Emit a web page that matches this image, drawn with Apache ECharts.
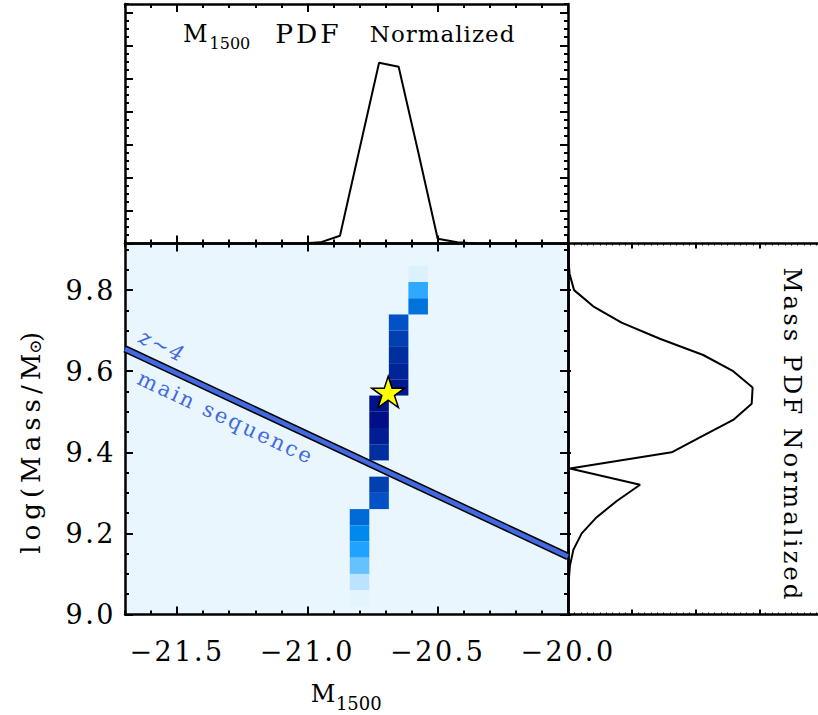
<!DOCTYPE html>
<html><head><meta charset="utf-8">
<script src="https://cdn.jsdelivr.net/npm/echarts@6/dist/echarts.min.js"></script>
<style>
html,body{margin:0;padding:0;background:#fff;}
#chart{width:818px;height:715px;}
#chart text{white-space:pre;}
#chart text[style*="27px"]{letter-spacing:2.5px;}
#chart text[style*="26px"]{letter-spacing:5px;}
#chart text[style*="24px"]{letter-spacing:1px;}
#chart text[style*="23px"]{letter-spacing:1px;}
#chart text[style*="26.5px"]{letter-spacing:3px;}
#chart text[style*="24.5px"]{letter-spacing:3px;}
#chart text[style*="21px"]{letter-spacing:2.5px;}
</style></head><body><div id="chart"></div>
<script>
// ---------------- data ----------------
// axis tick labels
const xMajorTicks = [-21.5, -21.0, -20.5, -20.0];
const yMajorTicks = [9.0, 9.2, 9.4, 9.6, 9.8];
// 2D PDF cells (M1500 bin centre, log mass bin centre, colour level 0..1)
const cellM1500 = [-20.575, -20.575, -20.575,
  -20.65, -20.65, -20.65, -20.65, -20.65,
  -20.725, -20.725, -20.725, -20.725, -20.725, -20.725,
  -20.80, -20.80, -20.80, -20.80, -20.80, -20.80];
const cellMass = [9.84, 9.80, 9.76,
  9.72, 9.68, 9.64, 9.60, 9.56,
  9.52, 9.48, 9.44, 9.40, 9.32, 9.28,
  9.24, 9.20, 9.16, 9.12, 9.08, 9.04];
const cellLevel = [0.02, 0.28, 0.47,
  0.60, 0.70, 0.80, 0.86, 0.93,
  0.98, 1.00, 0.90, 0.80, 0.70, 0.60,
  0.50, 0.40, 0.30, 0.20, 0.10, 0.00];
const binW = 0.075, binH = 0.04;
// M1500 marginal PDF (top panel)
const m1500Grid = [-21.1, -21.025, -20.95, -20.875, -20.80, -20.725, -20.65, -20.575, -20.50, -20.425, -20.35];
const m1500Pdf  = [0, 0, 0.007, 0.047, 0.573, 1.096, 1.071, 0.556, 0.029, 0.007, 0];
// Mass marginal PDF (right panel)
const massGrid = [9.92, 9.88, 9.84, 9.80, 9.76, 9.72, 9.68, 9.64, 9.60, 9.56, 9.52, 9.48,
  9.44, 9.40, 9.36, 9.32, 9.28, 9.24, 9.20, 9.16, 9.12, 9.08, 9.04, 9.00];
const massPdf = [0, 0.001, 0.005, 0.019, 0.079, 0.168, 0.288, 0.424, 0.518, 0.579, 0.576, 0.518,
  0.421, 0.325, 0.006, 0.226, 0.153, 0.090, 0.043, 0.017, 0.006, 0.002, 0.001, 0];
// z~4 main sequence line
const msM1500 = [-21.7, -20.0];
const msMass = [9.655, 9.143];
// best fit (star)
const starM1500 = [-20.69];
const starMass = [9.549];

// ---------------- styling / layout ----------------
const FONT = 'DejaVu Serif';
const levelColors = ['#e3f4fd', '#bbe3ff', '#66c2ff', '#1fa3ff', '#0088ee', '#006ad6',
  '#0052c6', '#0040b0', '#0030a0', '#001d92', '#000f88'];
const msAnnot = [
  {text: 'z~4', at: [-21.556, 9.662], italic: true},
  {text: 'main sequence', at: [-21.313, 9.485], italic: false}
];
function steps(a, b, s) { const out = []; const n = Math.round((b - a) / s); for (let i = 0; i <= n; i++) out.push(+(a + i * s).toFixed(6)); return out; }
const X_RANGE = [-21.7, -20.0], Y_RANGE = [9.0, 9.915];
const TOP_RANGE = [0, 1.4515], RIGHT_RANGE = [0, 0.9];
const LW = 2.5;

function axis(grid, pos, range, ticks, len, opt) {
  opt = opt || {};
  const a = {
    type: 'value', gridIndex: grid, position: pos, min: range[0], max: range[1],
    axisLine: {show: opt.line !== false, onZero: false, lineStyle: {color: '#000', width: LW}},
    axisTick: {show: true, inside: true, length: len, customValues: ticks, lineStyle: {color: '#000', width: opt.tw || 2}},
    axisLabel: {show: false},
    splitLine: {show: false}, minorTick: {show: false}, minorSplitLine: {show: false}
  };
  return Object.assign(a, opt.extra || {});
}
const fmtX = v => v.toFixed(1).replace('-', '\u2212');
const xMinor = steps(-21.7, -20.0, 0.1);
const yMinor = steps(9.0, 9.9, 0.05);
const xAxes = [
  axis(0, 'bottom', X_RANGE, xMajorTicks, 8, {extra: {
    axisLabel: {show: true, customValues: xMajorTicks, formatter: fmtX, fontFamily: FONT, fontSize: 27, color: '#000', margin: 23},
    name: '{m|M}{s|1500}', nameLocation: 'middle', nameGap: 61,
    nameTextStyle: {rich: {m: {fontFamily: FONT, fontSize: 24, color: '#000'}, s: {fontFamily: FONT, fontSize: 18, color: '#000', padding: [19, 0, 0, 0]}}}
  }}),
  axis(0, 'bottom', X_RANGE, xMinor, 4, {line: false}),
  axis(0, 'top', X_RANGE, xMajorTicks, 8),
  axis(0, 'top', X_RANGE, xMinor, 4, {line: false}),
  axis(1, 'bottom', X_RANGE, xMajorTicks, 8),
  axis(1, 'bottom', X_RANGE, xMinor, 4, {line: false}),
  axis(1, 'top', X_RANGE, xMajorTicks, 8),
  axis(1, 'top', X_RANGE, xMinor, 4, {line: false}),
  axis(2, 'bottom', RIGHT_RANGE, steps(0, 0.8, 0.2), 5),
  axis(2, 'bottom', RIGHT_RANGE, steps(0, 0.9, 0.02), 2, {line: false, tw: 1}),
  axis(2, 'top', RIGHT_RANGE, steps(0, 0.8, 0.2), 5),
  axis(2, 'top', RIGHT_RANGE, steps(0, 0.9, 0.02), 2, {line: false, tw: 1})
];
const yAxes = [
  axis(0, 'left', Y_RANGE, yMajorTicks, 8, {extra: {
    axisLabel: {show: true, customValues: yMajorTicks, formatter: v => v.toFixed(1), fontFamily: FONT, fontSize: 27, color: '#000', margin: 9},
    name: '{a|log(Mass/M}{s|\u2299}{b|)}', nameLocation: 'middle', nameRotate: 90, nameGap: 81,
    nameTextStyle: {rich: {
      a: {fontFamily: FONT, fontSize: 26, color: '#000', padding: [0, 20, 0, 0]},
      s: {fontFamily: FONT, fontSize: 17, color: '#000', padding: [8, 0, 0, 0]},
      b: {fontFamily: FONT, fontSize: 26, color: '#000'}
    }}
  }}),
  axis(0, 'left', Y_RANGE, yMinor, 4, {line: false}),
  axis(0, 'right', Y_RANGE, yMajorTicks, 8),
  axis(0, 'right', Y_RANGE, yMinor, 4, {line: false}),
  axis(1, 'left', TOP_RANGE, steps(0, 1.4, 0.2), 8),
  axis(1, 'left', TOP_RANGE, steps(0, 1.45, 0.05), 4, {line: false}),
  axis(1, 'right', TOP_RANGE, steps(0, 1.4, 0.2), 8),
  axis(1, 'right', TOP_RANGE, steps(0, 1.45, 0.05), 4, {line: false}),
  axis(2, 'left', Y_RANGE, yMajorTicks, 3),
  axis(2, 'left', Y_RANGE, yMinor, 2, {line: false})
];

function starPath() {
  let d = '';
  for (let i = 0; i < 10; i++) {
    const r = i % 2 === 0 ? 50 : 19.1;
    const a = -Math.PI / 2 + i * Math.PI / 5;
    d += (i ? 'L' : 'M') + (r * Math.cos(a)).toFixed(2) + ' ' + (r * Math.sin(a)).toFixed(2) + ' ';
  }
  return 'path://' + d + 'Z';
}

const chart = echarts.init(document.getElementById('chart'), null, {renderer: 'svg', width: 818, height: 715});
chart.setOption({
  animation: false,
  backgroundColor: '#ffffff',
  grid: [
    {left: 125, top: 243.5, width: 443, height: 371, show: true, backgroundColor: '#eaf6fe', borderWidth: 0, outerBoundsMode: 'none'},
    {left: 125, top: 4, width: 443, height: 239.5, outerBoundsMode: 'none'},
    {left: 568, top: 243.5, width: 287, height: 371, outerBoundsMode: 'none'}
  ],
  xAxis: xAxes,
  yAxis: yAxes,
  visualMap: {show: false, type: 'continuous', seriesIndex: 0, dimension: 2, min: 0, max: 1, inRange: {color: levelColors}},
  graphic: [
    {type: 'text', x: 183, y: 33.5, z: 10, style: {
      text: '{m|M}{s|1500}{p|PDF}{t|Normalized}', align: 'left', verticalAlign: 'middle',
      rich: {
        m: {fontFamily: FONT, fontSize: 24, fill: '#000'},
        s: {fontFamily: FONT, fontSize: 16, fill: '#000', padding: [19, 0, 0, 2]},
        p: {fontFamily: FONT, fontSize: 26.5, fill: '#000', padding: [0, 0, 0, 25]},
        t: {fontFamily: FONT, fontSize: 23, fill: '#000', padding: [0, 0, 0, 37]}
      }
    }},
    {type: 'text', x: 792, y: 435, rotation: -Math.PI / 2, z: 10, style: {
      text: 'Mass PDF Normalized', fontFamily: FONT, fontSize: 24.5, fill: '#000', align: 'center', verticalAlign: 'middle'
    }}
  ],
  series: [
    {type: 'custom', name: 'PDF cells', xAxisIndex: 0, yAxisIndex: 0, z: 2,
      data: cellM1500.map((x, i) => [x, cellMass[i], cellLevel[i]]),
      encode: {x: 0, y: 1},
      renderItem: function (params, api) {
        const x = api.value(0), y = api.value(1);
        const p1 = api.coord([x - binW / 2, y + binH / 2]);
        const p2 = api.coord([x + binW / 2, y - binH / 2]);
        return {type: 'rect', shape: {x: p1[0], y: p1[1], width: p2[0] - p1[0], height: p2[1] - p1[1]}, style: {fill: api.visual('color')}};
      }
    },
    {type: 'line', name: 'MS edge', xAxisIndex: 0, yAxisIndex: 0, z: 3, showSymbol: false, symbol: 'none',
      data: msM1500.map((x, i) => [x, msMass[i]]), lineStyle: {color: '#000', width: 7.5}},
    {type: 'line', name: 'z~4 main sequence', xAxisIndex: 0, yAxisIndex: 0, z: 4, showSymbol: false, symbol: 'none',
      data: msM1500.map((x, i) => [x, msMass[i]]), lineStyle: {color: '#4169e1', width: 4.5}},
    {type: 'custom', name: 'MS labels', xAxisIndex: 0, yAxisIndex: 0, z: 5,
      data: msAnnot.map(a => a.at), encode: {x: 0, y: 1},
      renderItem: function (params, api) {
        const a = msAnnot[params.dataIndex];
        const p = api.coord(a.at);
        const q1 = api.coord([msM1500[0], msMass[0]]), q2 = api.coord([msM1500[1], msMass[1]]);
        const ang = Math.atan2(q2[1] - q1[1], q2[0] - q1[0]);
        return {type: 'text', x: p[0], y: p[1], rotation: -ang, style: {
          text: a.text, fill: '#4169e1', fontSize: 21, fontFamily: FONT, fontStyle: a.italic ? 'italic' : 'normal',
          align: 'center', verticalAlign: 'middle'}};
      }
    },
    {type: 'scatter', name: 'best fit', xAxisIndex: 0, yAxisIndex: 0, z: 10,
      data: starM1500.map((x, i) => [x, starMass[i]]),
      symbol: starPath(), symbolSize: 33, symbolKeepAspect: true,
      itemStyle: {color: '#ffff00', borderColor: '#000', borderWidth: 1.5, opacity: 1}},
    {type: 'line', name: 'M1500 PDF', xAxisIndex: 4, yAxisIndex: 4, z: 3, showSymbol: false, symbol: 'none',
      data: m1500Grid.map((x, i) => [x, m1500Pdf[i]]), lineStyle: {color: '#000', width: 2}},
    {type: 'line', name: 'Mass PDF', xAxisIndex: 8, yAxisIndex: 8, z: 3, showSymbol: false, symbol: 'none',
      data: massGrid.map((m, i) => [massPdf[i], m]), lineStyle: {color: '#000', width: 2}}
  ]
});
</script></body></html>
